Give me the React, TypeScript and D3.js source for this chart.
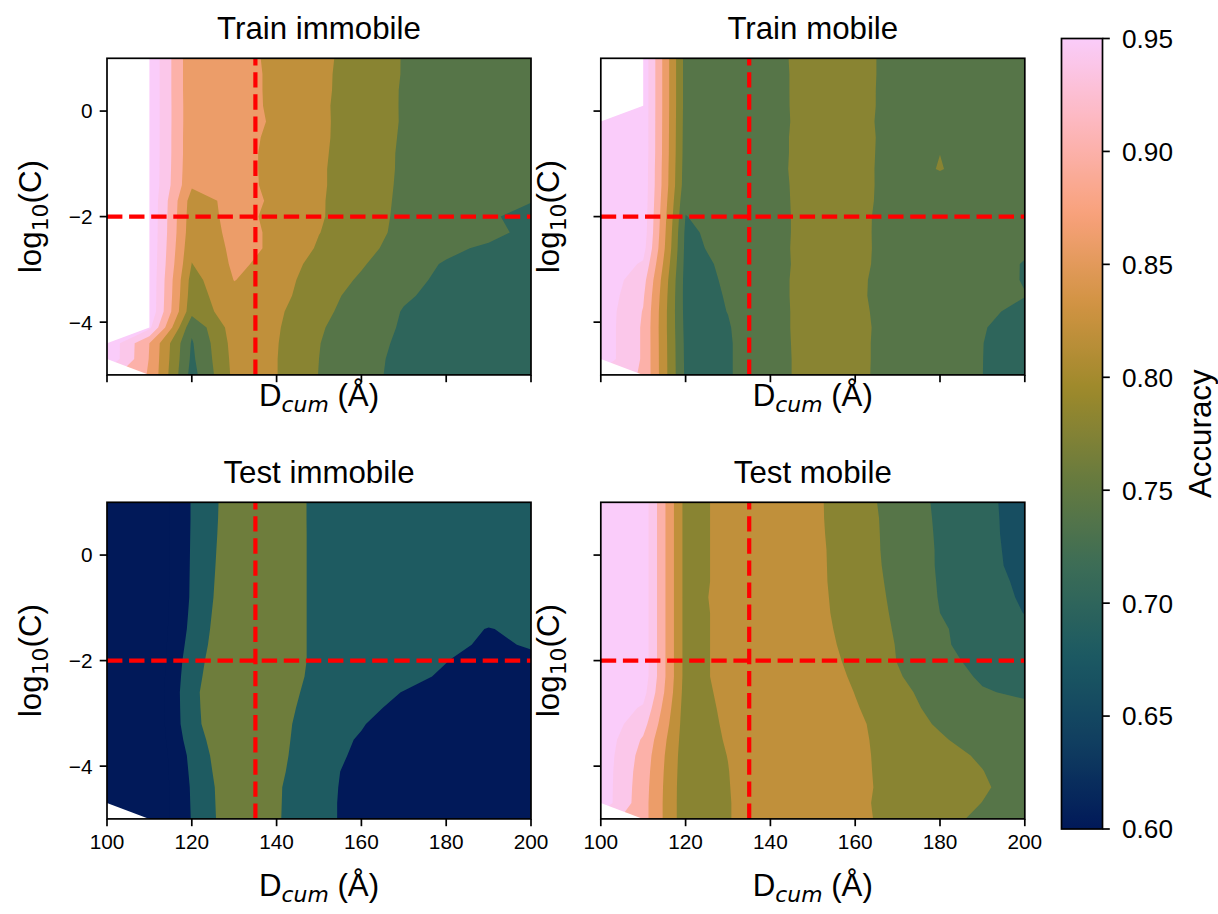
import React from "react";
import * as d3 from "d3";

// Sampling grid of the sweep: cumulative displacement (Å) and log10 of the regularisation C
const dcum = [100, 110, 120, 130, 140, 150, 160, 170, 180, 190, 200];
const log10C = [1.0, 0.7, 0.4, 0.1, -0.2, -0.5, -0.8, -1.1, -1.4, -1.7, -2.0, -2.3, -2.6, -2.9, -3.2, -3.5, -3.8, -4.1, -4.4, -4.7, -5.0];

// Accuracy per (log10C row, Dcum column); null = run missing
const trainImmobile = [
  [null, 0.995, 0.850, 0.855, 0.831, 0.809, 0.784, 0.758, 0.750, 0.746, 0.744],
  [null, 0.995, 0.850, 0.856, 0.832, 0.808, 0.783, 0.758, 0.750, 0.746, 0.744],
  [null, 0.995, 0.850, 0.856, 0.832, 0.808, 0.782, 0.757, 0.749, 0.745, 0.743],
  [null, 0.995, 0.851, 0.857, 0.832, 0.807, 0.781, 0.757, 0.749, 0.745, 0.742],
  [null, 0.995, 0.851, 0.858, 0.834, 0.807, 0.782, 0.757, 0.748, 0.744, 0.741],
  [null, 0.995, 0.850, 0.855, 0.831, 0.807, 0.781, 0.756, 0.747, 0.743, 0.740],
  [null, 0.995, 0.850, 0.853, 0.830, 0.806, 0.780, 0.755, 0.746, 0.742, 0.739],
  [null, 0.995, 0.848, 0.853, 0.830, 0.805, 0.779, 0.755, 0.745, 0.741, 0.737],
  [null, 0.995, 0.845, 0.854, 0.830, 0.805, 0.779, 0.754, 0.744, 0.739, 0.733],
  [null, 0.995, 0.822, 0.852, 0.835, 0.804, 0.778, 0.753, 0.742, 0.735, 0.722],
  [null, 0.995, 0.818, 0.852, 0.831, 0.804, 0.777, 0.752, 0.740, 0.726, 0.705],
  [null, 0.995, 0.815, 0.850, 0.835, 0.801, 0.773, 0.752, 0.745, 0.735, 0.705],
  [null, 0.995, 0.808, 0.848, 0.836, 0.795, 0.769, 0.748, 0.730, 0.712, 0.700],
  [null, 0.995, 0.799, 0.846, 0.830, 0.782, 0.763, 0.739, 0.716, 0.706, 0.700],
  [null, 0.995, 0.785, 0.841, 0.820, 0.777, 0.756, 0.731, 0.712, 0.705, 0.700],
  [null, 0.995, 0.780, 0.830, 0.812, 0.779, 0.743, 0.724, 0.710, 0.703, 0.700],
  [null, 0.995, 0.772, 0.825, 0.807, 0.770, 0.742, 0.718, 0.708, 0.702, 0.698],
  [null, 0.970, 0.728, 0.820, 0.804, 0.764, 0.738, 0.716, 0.706, 0.700, 0.697],
  [0.995, 0.880, 0.716, 0.815, 0.802, 0.761, 0.735, 0.713, 0.705, 0.700, 0.697],
  [0.995, 0.878, 0.712, 0.812, 0.801, 0.760, 0.732, 0.711, 0.704, 0.700, 0.697],
  [null, 0.876, 0.705, 0.810, 0.801, 0.759, 0.731, 0.710, 0.703, 0.700, 0.697],
];

const trainMobile = [
  [null, 0.990, 0.745, 0.740, 0.748, 0.776, 0.778, 0.742, 0.745, 0.742, 0.738],
  [null, 0.990, 0.745, 0.740, 0.747, 0.776, 0.777, 0.743, 0.746, 0.742, 0.737],
  [null, 0.990, 0.745, 0.741, 0.747, 0.776, 0.777, 0.742, 0.746, 0.741, 0.737],
  [null, 0.990, 0.745, 0.741, 0.746, 0.777, 0.776, 0.743, 0.747, 0.741, 0.736],
  [0.990, 0.990, 0.744, 0.740, 0.745, 0.777, 0.775, 0.742, 0.748, 0.740, 0.736],
  [0.990, 0.990, 0.743, 0.739, 0.746, 0.778, 0.776, 0.743, 0.752, 0.740, 0.735],
  [0.990, 0.990, 0.742, 0.738, 0.746, 0.778, 0.776, 0.742, 0.7598, 0.741, 0.735],
  [0.990, 0.988, 0.740, 0.737, 0.747, 0.778, 0.775, 0.742, 0.762, 0.741, 0.734],
  [0.990, 0.988, 0.738, 0.736, 0.746, 0.777, 0.776, 0.741, 0.745, 0.740, 0.733],
  [0.990, 0.987, 0.728, 0.738, 0.745, 0.777, 0.775, 0.741, 0.744, 0.739, 0.732],
  [0.990, 0.985, 0.719, 0.738, 0.745, 0.776, 0.773, 0.740, 0.743, 0.738, 0.730],
  [0.990, 0.983, 0.712, 0.736, 0.745, 0.776, 0.772, 0.741, 0.742, 0.737, 0.729],
  [0.990, 0.975, 0.710, 0.732, 0.746, 0.776, 0.773, 0.740, 0.742, 0.736, 0.725],
  [0.990, 0.955, 0.708, 0.726, 0.745, 0.776, 0.772, 0.740, 0.741, 0.735, 0.718],
  [0.990, 0.935, 0.706, 0.724, 0.746, 0.777, 0.769, 0.739, 0.740, 0.734, 0.718],
  [0.988, 0.925, 0.706, 0.722, 0.746, 0.777, 0.768, 0.740, 0.739, 0.732, 0.721],
  [0.985, 0.918, 0.707, 0.7205, 0.745, 0.777, 0.770, 0.741, 0.739, 0.728, 0.710],
  [0.985, 0.915, 0.709, 0.718, 0.745, 0.777, 0.772, 0.741, 0.738, 0.722, 0.705],
  [0.985, 0.915, 0.711, 0.717, 0.744, 0.777, 0.771, 0.741, 0.737, 0.7205, 0.703],
  [0.985, 0.915, 0.712, 0.717, 0.744, 0.776, 0.771, 0.741, 0.737, 0.7203, 0.703],
  [null, 0.915, 0.713, 0.717, 0.744, 0.776, 0.771, 0.740, 0.737, 0.7202, 0.703],
];

const testImmobile = [
  [0.56, 0.482, 0.645, 0.764, 0.775, 0.697, 0.690, 0.685, 0.680, 0.675, 0.670],
  [0.56, 0.482, 0.645, 0.766, 0.775, 0.697, 0.690, 0.685, 0.680, 0.675, 0.670],
  [0.56, 0.482, 0.646, 0.769, 0.776, 0.697, 0.690, 0.684, 0.679, 0.674, 0.669],
  [0.56, 0.482, 0.647, 0.773, 0.776, 0.697, 0.689, 0.683, 0.678, 0.673, 0.668],
  [0.56, 0.482, 0.648, 0.777, 0.776, 0.697, 0.688, 0.682, 0.676, 0.671, 0.667],
  [0.56, 0.482, 0.649, 0.782, 0.776, 0.697, 0.687, 0.680, 0.673, 0.668, 0.665],
  [0.56, 0.482, 0.650, 0.787, 0.776, 0.697, 0.686, 0.678, 0.670, 0.665, 0.662],
  [0.56, 0.482, 0.655, 0.793, 0.776, 0.697, 0.684, 0.675, 0.666, 0.660, 0.658],
  [0.56, 0.482, 0.661, 0.798, 0.776, 0.697, 0.682, 0.672, 0.658, 0.638, 0.652],
  [0.56, 0.482, 0.672, 0.798, 0.776, 0.697, 0.680, 0.668, 0.655, 0.630, 0.645],
  [0.56, 0.482, 0.685, 0.798, 0.776, 0.697, 0.678, 0.665, 0.642, 0.610, 0.628],
  [0.56, 0.482, 0.694, 0.798, 0.774, 0.692, 0.672, 0.660, 0.630, 0.600, 0.610],
  [0.56, 0.482, 0.702, 0.798, 0.770, 0.680, 0.665, 0.638, 0.610, 0.590, 0.600],
  [0.56, 0.482, 0.700, 0.798, 0.762, 0.670, 0.655, 0.625, 0.600, 0.585, 0.590],
  [0.56, 0.482, 0.697, 0.798, 0.755, 0.660, 0.643, 0.615, 0.595, 0.580, 0.585],
  [0.56, 0.482, 0.680, 0.798, 0.750, 0.658, 0.636, 0.610, 0.590, 0.578, 0.582],
  [0.56, 0.482, 0.661, 0.798, 0.745, 0.656, 0.632, 0.605, 0.588, 0.576, 0.580],
  [0.56, 0.482, 0.654, 0.790, 0.738, 0.655, 0.625, 0.602, 0.586, 0.575, 0.578],
  [0.56, 0.482, 0.648, 0.781, 0.730, 0.655, 0.622, 0.600, 0.585, 0.574, 0.577],
  [0.56, 0.482, 0.646, 0.779, 0.729, 0.655, 0.620, 0.598, 0.584, 0.573, 0.576],
  [null, 0.482, 0.644, 0.777, 0.728, 0.655, 0.620, 0.597, 0.583, 0.572, 0.575],
];

const testMobile = [
  [0.990, 0.985, 0.785, 0.811, 0.825, 0.808, 0.777, 0.744, 0.713, 0.689, 0.665],
  [0.990, 0.985, 0.785, 0.811, 0.825, 0.808, 0.778, 0.746, 0.714, 0.690, 0.665],
  [0.990, 0.985, 0.785, 0.811, 0.825, 0.809, 0.778, 0.747, 0.715, 0.690, 0.666],
  [0.990, 0.985, 0.785, 0.811, 0.825, 0.810, 0.779, 0.747, 0.716, 0.691, 0.667],
  [0.990, 0.985, 0.785, 0.811, 0.825, 0.810, 0.780, 0.748, 0.716, 0.692, 0.668],
  [0.990, 0.985, 0.785, 0.811, 0.825, 0.810, 0.781, 0.750, 0.717, 0.695, 0.672],
  [0.990, 0.985, 0.785, 0.813, 0.826, 0.811, 0.782, 0.752, 0.718, 0.697, 0.675],
  [0.990, 0.985, 0.785, 0.811, 0.826, 0.812, 0.783, 0.754, 0.720, 0.700, 0.679],
  [0.990, 0.985, 0.785, 0.811, 0.827, 0.814, 0.785, 0.756, 0.724, 0.705, 0.690],
  [0.990, 0.985, 0.785, 0.811, 0.828, 0.817, 0.787, 0.758, 0.728, 0.698, 0.695],
  [0.990, 0.985, 0.785, 0.811, 0.829, 0.821, 0.790, 0.759, 0.733, 0.707, 0.700],
  [0.990, 0.985, 0.785, 0.811, 0.830, 0.826, 0.794, 0.763, 0.738, 0.715, 0.708],
  [0.990, 0.975, 0.783, 0.809, 0.832, 0.829, 0.799, 0.769, 0.745, 0.723, 0.714],
  [0.990, 0.955, 0.781, 0.807, 0.833, 0.830, 0.803, 0.775, 0.748, 0.738, 0.728],
  [0.990, 0.935, 0.780, 0.805, 0.834, 0.830, 0.807, 0.781, 0.755, 0.742, 0.730],
  [0.988, 0.915, 0.779, 0.803, 0.834, 0.830, 0.807, 0.786, 0.765, 0.741, 0.730],
  [0.986, 0.905, 0.777, 0.8007, 0.835, 0.830, 0.806, 0.790, 0.773, 0.755, 0.742],
  [0.985, 0.900, 0.776, 0.799, 0.835, 0.830, 0.806, 0.791, 0.776, 0.761, 0.737],
  [0.985, 0.897, 0.775, 0.798, 0.835, 0.830, 0.806, 0.792, 0.778, 0.764, 0.745],
  [0.985, 0.895, 0.775, 0.797, 0.835, 0.830, 0.806, 0.790, 0.775, 0.7595, 0.740],
  [null, 0.895, 0.775, 0.797, 0.835, 0.830, 0.808, 0.789, 0.772, 0.752, 0.740],
];

// Contour levels used by each panel
const levelsDefault = [0.64, 0.68, 0.72, 0.76, 0.80, 0.84, 0.88, 0.92, 0.96, 1.0];
const levelsTestImmobile = [0.48, 0.56, 0.64, 0.72, 0.80];

const xTicks = [100, 120, 140, 160, 180, 200];
const yTicks = [-4, -2, 0];
const colorbarTicks = [0.6, 0.65, 0.7, 0.75, 0.8, 0.85, 0.9, 0.95];
const accuracyRange = [0.6, 0.95];
const refDcum = 135;
const refLogC = -2;

// batlow colour map (Crameri), evenly spaced stops
const batlowStops = ["#011959", "#103F60", "#1C5A62", "#3C6D56", "#687B3E", "#9D892B", "#D29343", "#F8A17B", "#FDB7BC", "#FACCFA"];
const batlow = d3
  .scaleLinear<string>()
  .domain(batlowStops.map((_, i) => i / (batlowStops.length - 1)))
  .range(batlowStops)
  .interpolate(d3.interpolateRgb)
  .clamp(true);
const norm = d3.scaleLinear().domain(accuracyRange).range([0, 1]).clamp(true);
const colorFor = (v: number) => batlow(norm(v));

// Figure geometry
const W = 1218;
const H = 914;
const PW = 424;
const PH = 316.6;
const LEFTS = [107, 600.8];
const TOPS = [58.3, 502.3];
const TICK = 7.3;
const FONT = "'Liberation Sans', Arial, Helvetica, sans-serif";
const MATH = "'DejaVu Sans', sans-serif";
const TICK_FS = 20.8;
const CBAR_FS = 26.2;
const LABEL_FS = 31.25;
const SUB_FS = 21.9;
const CB = { x: 1061.5, w: 41, top: 38.5, bottom: 829 };

const fmtTick = (v: number) => (v < 0 ? "\u2212" + Math.abs(v) : String(v));

type Grid = (number | null)[][];
type Pt = [number, number];

// Missing runs are filled from their neighbours only so the contour tracer has a
// continuous field; those cells are blanked out again by the mask below.
function filledGrid(rows: Grid): number[][] {
  let g = rows.map((r) => r.map((v) => (v == null ? NaN : v)));
  for (let pass = 0; pass < 50; pass++) {
    let missing = false;
    const next = g.map((r) => r.slice());
    g.forEach((r, i) =>
      r.forEach((v, j) => {
        if (!Number.isNaN(v)) return;
        const nb = [g[i - 1]?.[j], g[i + 1]?.[j], r[j - 1], r[j + 1]].filter(
          (u) => u !== undefined && !Number.isNaN(u)
        ) as number[];
        if (nb.length) next[i][j] = d3.mean(nb) as number;
        else missing = true;
      })
    );
    g = next;
    if (!missing) break;
  }
  return g;
}

// Cells touching missing runs: a cell with two or more missing corners is blank,
// a cell with a single missing corner loses the triangle at that corner.
function maskCells(rows: Grid): Pt[][] {
  const out: Pt[][] = [];
  for (let i = 0; i < rows.length - 1; i++) {
    for (let j = 0; j < rows[i].length - 1; j++) {
      const corners: Pt[] = [
        [j, i],
        [j + 1, i],
        [j + 1, i + 1],
        [j, i + 1],
      ];
      const miss = corners.map(([c, r]) => rows[r][c] == null);
      const n = miss.filter(Boolean).length;
      if (n >= 2) out.push(corners);
      else if (n === 1) {
        const k = miss.indexOf(true);
        out.push([corners[(k + 3) % 4], corners[k], corners[(k + 1) % 4]]);
      }
    }
  }
  return out;
}

// same winding for every mask polygon so one path fills them without seams
function orient(poly: Pt[]): Pt[] {
  let a = 0;
  for (let i = 0; i < poly.length; i++) {
    const [x1, y1] = poly[i];
    const [x2, y2] = poly[(i + 1) % poly.length];
    a += x1 * y2 - x2 * y1;
  }
  return a < 0 ? poly.slice().reverse() : poly;
}

type PanelSpec = {
  title: string;
  values: Grid;
  levels: number[];
  col: number;
  row: number;
};

const panels: PanelSpec[] = [
  { title: "Train immobile", values: trainImmobile, levels: levelsDefault, col: 0, row: 0 },
  { title: "Train mobile", values: trainMobile, levels: levelsDefault, col: 1, row: 0 },
  { title: "Test immobile", values: testImmobile, levels: levelsTestImmobile, col: 0, row: 1 },
  { title: "Test mobile", values: testMobile, levels: levelsDefault, col: 1, row: 1 },
];

function Panel({ spec, idx }: { spec: PanelSpec; idx: number }) {
  const left = LEFTS[spec.col];
  const top = TOPS[spec.row];
  const x = d3.scaleLinear().domain([100, 200]).range([left, left + PW]);
  const y = d3.scaleLinear().domain([-5, 1]).range([top + PH, top]);

  const nx = dcum.length;
  const ny = log10C.length;
  const flat = filledGrid(spec.values).flat();
  const stepX = dcum[1] - dcum[0];
  const stepY = log10C[1] - log10C[0];
  const toPixels = d3.geoTransform({
    point(gx: number, gy: number) {
      // grid sample i sits at grid coordinate i + 0.5
      this.stream.point(x(dcum[0] + (gx - 0.5) * stepX), y(log10C[0] + (gy - 0.5) * stepY));
    },
  });
  const path = d3.geoPath(toPixels);
  const gen = d3.contours().size([nx, ny]).smooth(true);
  const bands = spec.levels.map((t, i) => {
    const next = spec.levels[i + 1];
    return {
      d: path(gen.contour(flat, t) as any) || "",
      fill: next === undefined ? "#ffffff" : colorFor((t + next) / 2),
    };
  });

  const maskPath = maskCells(spec.values)
    .map((poly) => {
      const pts = orient(poly).map(([c, r]) => [x(dcum[c]), y(log10C[r])] as Pt);
      return "M" + pts.map((p) => p.join(",")).join("L") + "Z";
    })
    .join("");

  const clipId = `plot-clip-${idx}`;
  const cx = left + PW / 2;
  const showX = spec.row === 1;
  const showY = spec.col === 0;
  const xLabelBase = spec.row === 0 ? top + PH + 31 : top + PH + 77;
  const yLabelBase = spec.col === 0 ? 41 : 559;

  return (
    <g>
      <defs>
        <clipPath id={clipId}>
          <rect x={left} y={top} width={PW} height={PH} />
        </clipPath>
      </defs>
      <rect x={left} y={top} width={PW} height={PH} fill="#ffffff" />
      <g clipPath={`url(#${clipId})`}>
        {bands.map((b, i) => (
          <path key={i} d={b.d} fill={b.fill} stroke="none" />
        ))}
        {maskPath && <path d={maskPath} fill="#ffffff" stroke="none" />}
        <line
          x1={x(refDcum)}
          x2={x(refDcum)}
          y1={y(-5)}
          y2={y(1)}
          stroke="#ff0000"
          strokeWidth={4.2}
          strokeDasharray="15.4 6.7"
        />
        <line
          x1={x(100)}
          x2={x(200)}
          y1={y(refLogC)}
          y2={y(refLogC)}
          stroke="#ff0000"
          strokeWidth={4.2}
          strokeDasharray="15.4 6.7"
        />
      </g>
      <rect x={left} y={top} width={PW} height={PH} fill="none" stroke="#000" strokeWidth={1.7} />

      {xTicks.map((t) => (
        <g key={`x${t}`}>
          <line x1={x(t)} x2={x(t)} y1={top + PH} y2={top + PH + TICK} stroke="#000" strokeWidth={1.7} />
          {showX && (
            <text x={x(t)} y={top + PH + 30} textAnchor="middle" fontFamily={FONT} fontSize={TICK_FS} fill="#000">
              {t}
            </text>
          )}
        </g>
      ))}
      {yTicks.map((t) => (
        <g key={`y${t}`}>
          <line x1={left - TICK} x2={left} y1={y(t)} y2={y(t)} stroke="#000" strokeWidth={1.7} />
          {showY && (
            <text x={left - 14.5} y={y(t) + 7.4} textAnchor="end" fontFamily={FONT} fontSize={TICK_FS} fill="#000">
              {fmtTick(t)}
            </text>
          )}
        </g>
      ))}

      <text x={cx} y={top - 19} textAnchor="middle" fontFamily={FONT} fontSize={LABEL_FS} fill="#000">
        {spec.title}
      </text>
      <text x={cx} y={xLabelBase} textAnchor="middle" fontFamily={FONT} fontSize={LABEL_FS} fill="#000" style={{ whiteSpace: "pre" }}>
        D
        <tspan fontFamily={MATH} fontStyle="italic" fontSize={SUB_FS} dy={6.5}>
          cum
        </tspan>
        <tspan dy={-6.5}>{" (Å)"}</tspan>
      </text>
      <text
        transform={`translate(${yLabelBase},${top + PH / 2}) rotate(-90)`}
        textAnchor="middle"
        fontFamily={FONT}
        fontSize={LABEL_FS}
        fill="#000"
      >
        log
        <tspan fontFamily={MATH} fontSize={SUB_FS} dy={6.5}>
          10
        </tspan>
        <tspan dy={-6.5}>(C)</tspan>
      </text>
    </g>
  );
}

function Colorbar() {
  const yc = d3.scaleLinear().domain(accuracyRange).range([CB.bottom, CB.top]);
  const stops = d3.range(0, 65).map((i) => i / 64);
  const fmt = d3.format(".2f");
  return (
    <g>
      <defs>
        <linearGradient id="accuracy-gradient" x1="0" y1="1" x2="0" y2="0">
          {stops.map((s) => (
            <stop key={s} offset={s} stopColor={batlow(s)} />
          ))}
        </linearGradient>
      </defs>
      <rect x={CB.x} y={CB.top} width={CB.w} height={CB.bottom - CB.top} fill="url(#accuracy-gradient)" />
      <rect x={CB.x} y={CB.top} width={CB.w} height={CB.bottom - CB.top} fill="none" stroke="#000" strokeWidth={1.7} />
      {colorbarTicks.map((t) => (
        <g key={t}>
          <line x1={CB.x + CB.w} x2={CB.x + CB.w + TICK} y1={yc(t)} y2={yc(t)} stroke="#000" strokeWidth={1.7} />
          <text x={CB.x + CB.w + 19.5} y={yc(t) + 9.4} fontFamily={FONT} fontSize={CBAR_FS} fill="#000">
            {fmt(t)}
          </text>
        </g>
      ))}
      <text
        transform={`translate(1211,${(CB.top + CB.bottom) / 2}) rotate(-90)`}
        textAnchor="middle"
        fontFamily={FONT}
        fontSize={LABEL_FS}
        fill="#000"
      >
        Accuracy
      </text>
    </g>
  );
}

export default function App() {
  return (
    <svg
      width={W}
      height={H}
      viewBox={`0 0 ${W} ${H}`}
      style={{ position: "absolute", left: 0, top: 0, display: "block" }}
    >
      <rect width={W} height={H} fill="#ffffff" />
      {panels.map((p, i) => (
        <Panel key={p.title} spec={p} idx={i} />
      ))}
      <Colorbar />
    </svg>
  );
}
